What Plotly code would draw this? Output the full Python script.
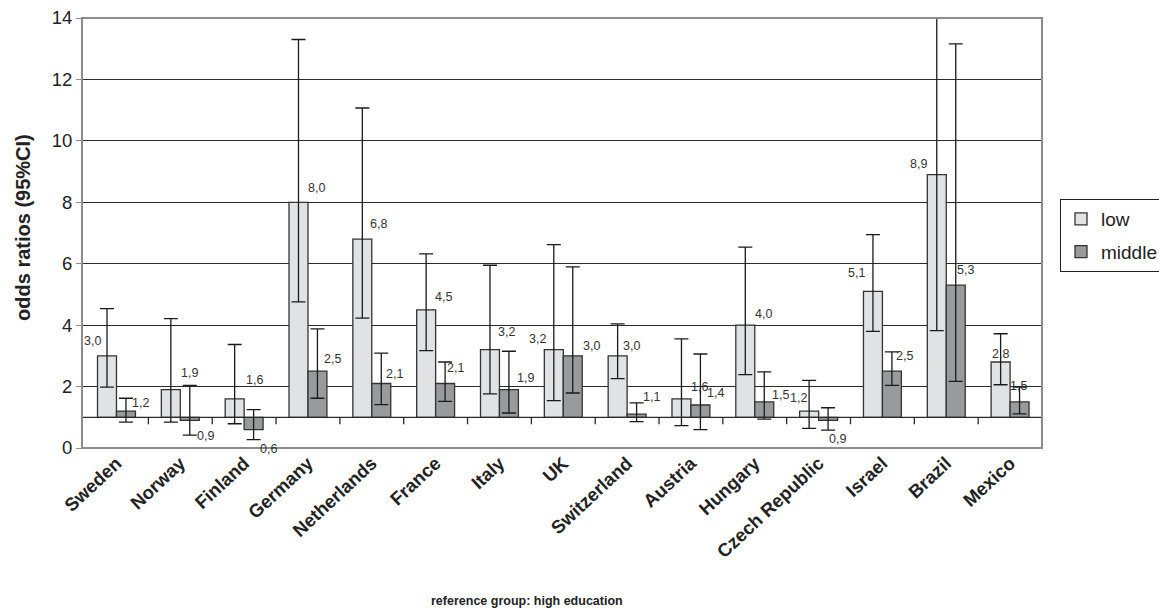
import plotly.graph_objects as go

# Countries (categories)
countries = ["Sweden", "Norway", "Finland", "Germany", "Netherlands", "France", "Italy", "UK",
             "Switzerland", "Austria", "Hungary", "Czech Republic", "Israel", "Brazil", "Mexico"]

# Odds ratios, reference group: high education
low = [3.0, 1.9, 1.6, 8.0, 6.8, 4.5, 3.2, 3.2, 3.0, 1.6, 4.0, 1.2, 5.1, 8.9, 2.8]
middle = [1.2, 0.9, 0.6, 2.5, 2.1, 2.1, 1.9, 3.0, 1.1, 1.4, 1.5, 0.9, 2.5, 5.3, 1.5]

# 95% confidence intervals
low_ci_lower = [1.98, 0.84, 0.79, 4.76, 4.23, 3.17, 1.76, 1.54, 2.26, 0.73, 2.39, 0.64, 3.80, 3.82, 2.06]
low_ci_upper = [4.54, 4.21, 3.37, 13.30, 11.07, 6.32, 5.95, 6.62, 4.04, 3.55, 6.54, 2.20, 6.95, 15.5, 3.72]
mid_ci_lower = [0.84, 0.42, 0.27, 1.62, 1.41, 1.52, 1.14, 1.79, 0.86, 0.60, 0.94, 0.58, 2.04, 2.17, 1.11]
mid_ci_upper = [1.62, 2.04, 1.25, 3.88, 3.09, 2.80, 3.15, 5.90, 1.47, 3.06, 2.48, 1.31, 3.13, 13.16, 1.98]

# Value-label nudges in pixels (dx, dy up)
low_label_shift = [(-14.5, 15), (19, 17), (20, 18.5), (18.5, 14), (16, 15.5), (17, 13), (16.5, 18),
                   (-16, 11), (14, 10), (18, 11.5), (18, 11.5), (-11, 13), (-16.5, 18), (-18, 11), (0, 8)]
mid_label_shift = [(15, 8), (16, -16), (14.5, -19), (15, 12), (13, 10), (10, 15.5), (16.5, 12),
                   (18.5, 10), (15, 17), (15.5, 12), (16.5, 7), (9, -19), (12.5, 15), (10, 15), (-1, 16)]

BASE = 1.0
BARGAP = 0.406
HALF = (1 - BARGAP) / 4

LOW_FILL = "#e1e2e4"
MID_FILL = "#999a9c"
EDGE = "#333333"
FONT = "Arial, Liberation Sans"
idx = list(range(len(countries)))


def bar_trace(name, vals, lo, hi, fill):
    return go.Bar(
        name=name,
        legendgroup=name,
        x=countries,
        y=[v - BASE for v in vals],
        base=[BASE] * len(vals),
        marker=dict(color=fill, line=dict(color=EDGE, width=1.3)),
        error_y=dict(
            type="data", symmetric=False,
            array=[h - v for h, v in zip(hi, vals)],
            arrayminus=[v - l for v, l in zip(vals, lo)],
            color="#1a1a1a", thickness=1.3, width=7,
        ),
    )


fig = go.Figure()
fig.add_trace(bar_trace("low", low, low_ci_lower, low_ci_upper, LOW_FILL))
fig.add_trace(bar_trace("middle", middle, mid_ci_lower, mid_ci_upper, MID_FILL))


def fmt(v):
    return f"{v:.1f}".replace(".", ",")


annotations = []
for i in idx:
    for vals, shift, off in ((low, low_label_shift, -HALF), (middle, mid_label_shift, HALF)):
        annotations.append(dict(
            x=i + off, y=vals[i], xref="x", yref="y", text=fmt(vals[i]), showarrow=False,
            xshift=shift[i][0], yshift=shift[i][1],
            font=dict(family=FONT, size=12.5, color="#333333"),
        ))

annotations.append(dict(
    x=-0.0615, y=0.514, xref="paper", yref="paper", text="<b>odds ratios (95%CI)</b>",
    textangle=-90, showarrow=False, xanchor="center", yanchor="middle",
    font=dict(family=FONT, size=20, color="#222222"),
))
annotations.append(dict(
    x=0.4635, y=-0.356, xref="paper", yref="paper", text="<b>reference group: high education</b>",
    showarrow=False, xanchor="center", yanchor="middle",
    font=dict(family=FONT, size=12.5, color="#222222"),
))

shapes = [
    # category axis crossing at odds ratio 1
    dict(type="line", xref="paper", yref="y", x0=0, x1=1, y0=BASE, y1=BASE,
         line=dict(color="#2a2a2a", width=1.3), layer="above"),
    # plot-area frame
    dict(type="rect", xref="paper", yref="paper", x0=0, x1=1, y0=0, y1=1,
         line=dict(color="#8c8c8c", width=2), layer="above"),
]
# tick marks between categories on the axis at 1
for i in idx[:-1]:
    shapes.append(dict(type="line", xref="x", yref="y", ysizemode="pixel", yanchor=BASE,
                       x0=i + 0.5, x1=i + 0.5, y0=0, y1=-7,
                       line=dict(color="#2a2a2a", width=1.3), layer="above"))

fig.update_layout(
    width=1159, height=616,
    margin=dict(l=82, r=117, t=18, b=168, autoexpand=False),
    paper_bgcolor="white", plot_bgcolor="white",
    barmode="group", bargap=BARGAP, bargroupgap=0,
    font=dict(family=FONT, color="#222222"),
    annotations=annotations, shapes=shapes,
    showlegend=True,
    legend=dict(
        xref="container", yref="container",
        x=1060 / 1159, y=1 - 199 / 616, xanchor="left", yanchor="top",
        bordercolor="#222222", borderwidth=1, bgcolor="white",
        font=dict(family=FONT, size=19, color="#222222"),
        tracegroupgap=5,
    ),
)
fig.update_xaxes(
    type="category", tickangle=-43, showgrid=False, ticks="", showline=False,
    tickfont=dict(family=FONT, size=18.5, color="#222222"),
    tickprefix="<b>", ticksuffix="</b>",
)
fig.update_yaxes(
    range=[0, 14], dtick=2, tick0=0, showgrid=True, gridcolor="#2a2a2a", gridwidth=1.2,
    zeroline=False, showline=False, ticks="outside", ticklen=5, tickcolor="#8c8c8c",
    tickfont=dict(family=FONT, size=18.5, color="#222222"),
)

fig.write_html("out.html")
